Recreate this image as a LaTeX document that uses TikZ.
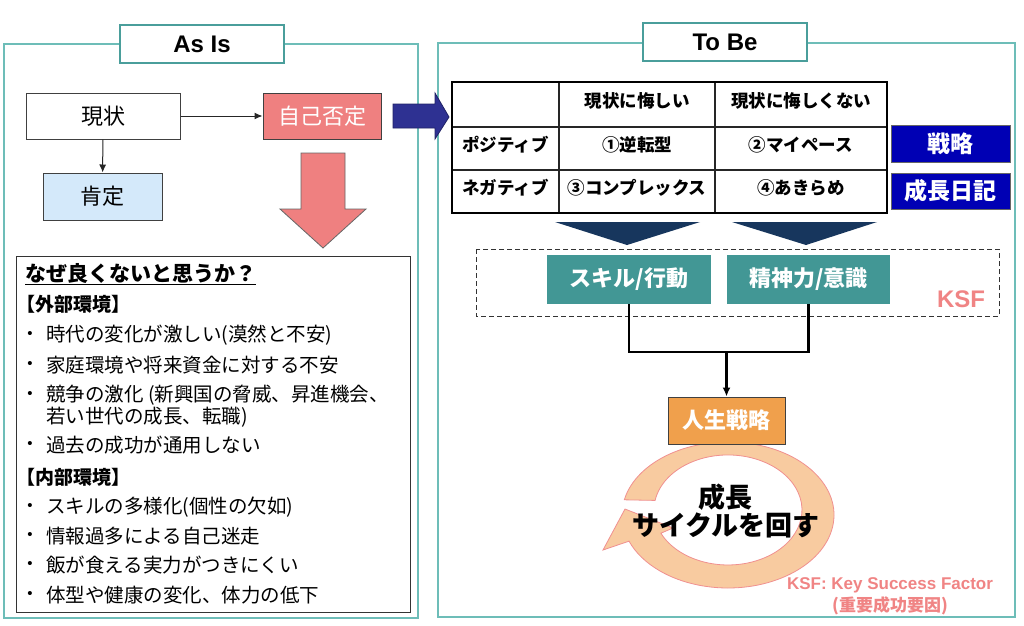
\documentclass[tikz,border=0pt]{standalone}
\usepackage{fontspec}
\setmainfont{Liberation Sans}
\newfontfamily\jp{Noto Sans CJK JP}
\usetikzlibrary{arrows.meta}
\newcommand\fsz[2]{\fontsize{#1}{#2}\selectfont}
\definecolor{panelteal}{HTML}{6DBDB8}
\definecolor{titleteal}{HTML}{4A9E9B}
\definecolor{coral}{HTML}{EF8080}
\definecolor{paleblue}{HTML}{D4E9FA}
\definecolor{indigo}{HTML}{2E3192}
\definecolor{royal}{HTML}{0000B4}
\definecolor{navy}{HTML}{17365D}
\definecolor{ksfteal}{HTML}{429795}
\definecolor{ksfpink}{HTML}{F08484}
\definecolor{orange1}{HTML}{F0A04C}
\definecolor{peach}{HTML}{F8CBA0}
\definecolor{ringline}{HTML}{F09090}
\begin{document}
\begin{tikzpicture}[x=1pt,y=-1pt,
  panel/.style={draw=panelteal, line width=1.2pt},
  titlebox/.style={draw=titleteal, line width=2pt, fill=white, minimum width=164pt, minimum height=38pt, inner sep=0pt, font=\fsz{24}{28}\bfseries},
  box/.style={draw=black!75, line width=1pt, inner sep=0pt, font=\jp\fsz{22}{26}},
  conn/.style={draw=black!85, line width=1pt, -{Latex[length=8pt,width=7pt]}},
  bodytext/.style={anchor=west, inner sep=0pt, font=\jp\fsz{19.5}{23}},
  headtext/.style={anchor=west, inner sep=0pt, font=\jp\bfseries\fsz{19}{22}},
  bul/.style={inner sep=0pt, font=\fsz{15}{17}},
  celltext/.style={inner sep=0pt, font=\jp\bfseries\fsz{17.5}{20}},
  sidebox/.style={draw=black!60, line width=0.8pt, fill=royal, text=white, inner sep=0pt, font=\jp\bfseries\fsz{23}{26}},
  ksfbox/.style={fill=ksfteal, text=white, inner sep=0pt, font=\jp\bfseries\fsz{22}{26}},
  thick2/.style={draw=black, line width=2.2pt}
]
\useasboundingbox[fill=white] (0,0) rectangle (1024,625);

% ---------- panels ----------
\draw[panel] (4,44) rectangle (418,618);
\draw[panel] (438,43) rectangle (1015,617);
\node[titlebox] (asis) at (202,44) {As Is};
\node[titlebox] (tobe) at (725,42) {To Be};

% ---------- As Is ----------
\node[box, minimum width=154pt, minimum height=46pt] (genjo) at (103,116) {現状};
\node[box, fill=coral, text=white, minimum width=118pt, minimum height=46pt] (hitei) at (322,116) {自己否定};
\node[box, fill=paleblue, minimum width=119pt, minimum height=47pt] (kotei) at (102.5,196.5) {肯定};
\draw[conn] (genjo) -- (hitei);
\draw[conn] (genjo) -- (kotei);

\draw[fill=coral, draw=black!60, line width=0.8pt] (301,153) -- (345,153) -- (345,209) -- (366,209) -- (323,248) -- (280,209) -- (301,209) -- cycle;

\node[draw=black!80, line width=1pt, minimum width=394pt, minimum height=356pt, inner sep=0pt] (why) at (213,434) {};
\node[anchor=west, inner sep=0pt, font=\jp\bfseries\fsz{21}{24}] (whyhead) at (25,274) {\underline{なぜ良くないと思うか？}};
\node[headtext] (gaibu) at (16,304) {【外部環境】};
\foreach \y/\t [count=\i] in {335/{時代の変化が激しい(漠然と不安)}, 365/{家庭環境や将来資金に対する不安}, 395/{競争の激化 (新興国の脅威、昇進機会、}, 445/{過去の成功が通用しない}}{
  \node[bul] (gb\i) at (30,\y) {•};
  \node[bodytext] (gt\i) at (46,\y) {\t};
}
\node[bodytext] (gt3b) at (46,417) {若い世代の成長、転職)};
\node[headtext] (naibu) at (16,477) {【内部環境】};
\foreach \y/\t [count=\i] in {507/{スキルの多様化(個性の欠如)}, 536/{情報過多による自己迷走}, 565/{飯が食える実力がつきにくい}, 595/{体型や健康の変化、体力の低下}}{
  \node[bul] (nb\i) at (30,\y) {•};
  \node[bodytext] (nt\i) at (46,\y) {\t};
}

% ---------- connecting block arrow ----------
\draw[fill=indigo, draw=indigo!70!black, line width=0.8pt] (393,104) -- (435,104) -- (435,93) -- (449,117) -- (435,139) -- (435,128) -- (393,128) -- cycle;

% ---------- To Be : matrix ----------
\draw[line width=1.2pt, black!85] (559,82) -- (559,213) (715,82) -- (715,213) (452,127) -- (887,127) (452,170) -- (887,170);
\draw[line width=2.5pt] (452,82) rectangle (887,213);
\node[celltext] (h1) at (637,101) {現状に悔しい};
\node[celltext] (h2) at (801,101) {現状に悔しくない};
\node[celltext] (r1) at (505.5,145) {ポジティブ};
\node[celltext] (c11) at (637,145) {①逆転型};
\node[celltext] (c12) at (801,145) {②マイペース};
\node[celltext] (r2) at (505.5,188) {ネガティブ};
\node[celltext] (c21) at (637,188) {③コンプレックス};
\node[celltext] (c22) at (801,188) {④あきらめ};

\node[sidebox, minimum width=119pt, minimum height=37pt] (senryaku) at (950.5,143.5) {戦略};
\node[sidebox, minimum width=119pt, minimum height=36pt] (nikki) at (950.5,191) {成長日記};

% chevrons
\fill[navy] (555,222) -- (700,222) -- (627,245) -- cycle;
\fill[navy] (732,222) -- (877,222) -- (806,245) -- cycle;

% KSF
\draw[dash pattern=on 5pt off 3pt, black!80, line width=1pt] (476,249) rectangle (999,316);
\node[ksfbox, minimum width=164pt, minimum height=49pt] (skill) at (629,279.5) {スキル/行動};
\node[ksfbox, minimum width=163pt, minimum height=49pt] (mind) at (808.5,279.5) {精神力/意識};
\node[inner sep=0pt, font=\fsz{24}{28}\bfseries, text=ksfpink] (ksf) at (961,299) {KSF};

% growth cycle ring
\draw[fill=peach, draw=ringline, line width=0.8pt]
  (624.3,499.8) arc[start angle=192, end angle=519, x radius=106, y radius=73]
  -- (603,550) -- (625,509) -- (673,528) -- (660.9,533.2)
  arc[start angle=515, end angle=190, x radius=74, y radius=55] -- cycle;

\node[box, fill=orange1, text=white, font=\jp\bfseries\fsz{22}{26}, minimum width=117pt, minimum height=47pt] (life) at (726.5,420.5) {人生戦略};

\coordinate (j) at (726.5,352);
\draw[thick2] (skill.south) |- (j) -| (mind.south);
\draw[thick2, -{Latex[length=9pt,width=8pt]}] (j) -- (life.north);

\node[inner sep=0pt, font=\jp\bfseries\fsz{27}{30}] (cyc1) at (725,497) {成長};
\node[inner sep=0pt, font=\jp\bfseries\fsz{27}{30}] (cyc2) at (726,525) {サイクルを回す};

\node[inner sep=0pt, font=\fsz{17}{20}\bfseries, text=ksfpink] (fn1) at (890,585) {KSF: Key Success Factor};
\node[inner sep=0pt, font=\jp\bfseries\fsz{17}{20}, text=ksfpink] (fn2) at (890,606) {(重要成功要因)};
\end{tikzpicture}
\end{document}
